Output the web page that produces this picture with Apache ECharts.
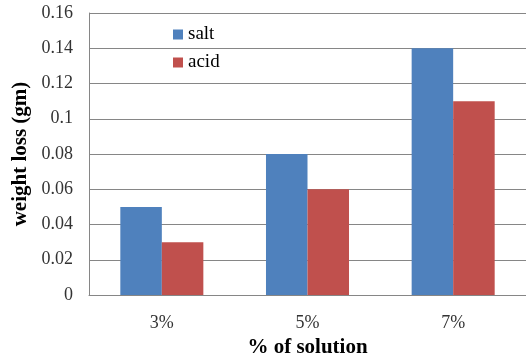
<!DOCTYPE html>
<html><head><meta charset="utf-8">
<script src="https://cdn.jsdelivr.net/npm/echarts@6/dist/echarts.min.js"></script>
<style>html,body{margin:0;padding:0;background:#fff}#c{width:526px;height:356px}</style>
</head><body><div id="c"></div>
<script>
const categories = ['3%', '5%', '7%'];
const salt = [0.05, 0.08, 0.14];
const acid = [0.03, 0.06, 0.11];
const yTicks = [0, 0.02, 0.04, 0.06, 0.08, 0.1, 0.12, 0.14, 0.16];

const chart = echarts.init(document.getElementById('c'));
const font = "'Liberation Serif', 'Times New Roman', serif";
chart.setOption({
  animation: false,
  textStyle: {fontFamily: font},
  grid: {left: 89, right: 0, top: 13, bottom: 61, containLabel: false, outerBoundsMode: 'none'},
  legend: {
    orient: 'vertical', left: 168, top: 20, itemGap: 9,
    itemWidth: 10, itemHeight: 10, icon: 'rect',
    textStyle: {fontFamily: font, fontSize: 19, color: '#000'},
    data: ['salt', 'acid']
  },
  xAxis: {
    type: 'category', data: categories,
    name: '% of solution', nameLocation: 'middle', nameGap: 36,
    nameTextStyle: {fontFamily: font, fontSize: 21, fontWeight: 'bold', color: '#000'},
    axisLine: {lineStyle: {color: '#868686', width: 1}},
    axisTick: {show: false},
    axisLabel: {fontFamily: font, fontSize: 18, color: '#333', margin: 19}
  },
  yAxis: {
    type: 'value', min: 0, max: 0.16, interval: 0.02,
    name: 'weight loss (gm)', nameLocation: 'middle', nameGap: 55,
    nameTextStyle: {fontFamily: font, fontSize: 21, fontWeight: 'bold', color: '#000'},
    axisLine: {show: true, lineStyle: {color: '#868686', width: 1}},
    axisTick: {show: false},
    axisLabel: {fontFamily: font, fontSize: 18, color: '#333', margin: 16,
      formatter: v => { const t = yTicks.find(x => Math.abs(x - v) < 1e-9); return String(+(t ?? v).toFixed(2)); }},
    splitLine: {lineStyle: {color: '#868686', width: 1}}
  },
  series: [
    {name: 'salt', type: 'bar', data: salt, barGap: '0%', barCategoryGap: '43%', itemStyle: {color: '#4F81BD'}},
    {name: 'acid', type: 'bar', data: acid, barGap: '0%', barCategoryGap: '43%', itemStyle: {color: '#C0504D'}}
  ]
});
</script></body></html>
